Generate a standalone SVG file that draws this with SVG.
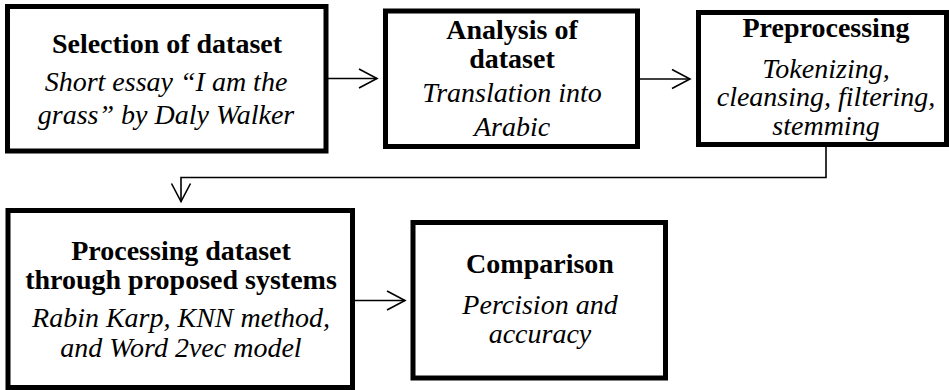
<svg xmlns="http://www.w3.org/2000/svg" width="949" height="390" viewBox="0 0 949 390">
<style>
.box{fill:#fff;stroke:#000;stroke-width:5}
text{font-family:'Liberation Serif','Times New Roman',serif;font-size:28px;text-anchor:middle;fill:#000}
.t{font-weight:bold}
.i{font-style:italic}
.c{fill:none;stroke:#000;stroke-width:1.6}
</style>
<defs>
<marker id="arr" viewBox="-20 -12 22 24" refX="0" refY="0" markerWidth="22" markerHeight="24" markerUnits="userSpaceOnUse" orient="auto" overflow="visible">
<path d="M-18,-9.5 L0,0 L-18,9.5" fill="none" stroke="#000" stroke-width="1.6"/>
</marker>
</defs>
<rect width="949" height="390" fill="#fff"/>
<g id="connectors">
<path class="c" d="M328,78.5 H377" marker-end="url(#arr)"/>
<path class="c" d="M640,79 H690" marker-end="url(#arr)"/>
<path class="c" d="M826,147 V177.5 H181 V201.5" marker-end="url(#arr)"/>
<path class="c" d="M355,300.5 H405" marker-end="url(#arr)"/>
</g>
<g id="selection">
<rect class="box" x="7.5" y="6.5" width="318.5" height="144.5"/>
<text class="t" x="167" y="53">Selection of dataset</text>
<text class="i" x="166" y="91">Short essay “I am the</text>
<text class="i" x="166" y="124">grass” by Daly Walker</text>
</g>
<g id="analysis">
<rect class="box" x="385.5" y="11" width="252" height="135.5"/>
<text class="t" x="512" y="39">Analysis of</text>
<text class="t" x="512" y="68">dataset</text>
<text class="i" x="512" y="102">Translation into</text>
<text class="i" x="512" y="136">Arabic</text>
</g>
<g id="preprocessing">
<rect class="box" x="698.5" y="12.5" width="248" height="132"/>
<text class="t" x="826" y="37">Preprocessing</text>
<text class="i" x="826" y="78">Tokenizing,</text>
<text class="i" x="826" y="106">cleansing, filtering,</text>
<text class="i" x="826" y="135">stemming</text>
</g>
<g id="processing">
<rect class="box" x="8" y="210.5" width="344.5" height="177"/>
<text class="t" x="181" y="260">Processing dataset</text>
<text class="t" x="181" y="289">through proposed systems</text>
<text class="i" x="181" y="327">Rabin Karp, KNN method,</text>
<text class="i" x="181" y="357">and Word 2vec model</text>
</g>
<g id="comparison">
<rect class="box" x="413" y="222.5" width="252.5" height="155.5"/>
<text class="t" x="540" y="273">Comparison</text>
<text class="i" x="540" y="314">Percision and</text>
<text class="i" x="540" y="343">accuracy</text>
</g>
</svg>
